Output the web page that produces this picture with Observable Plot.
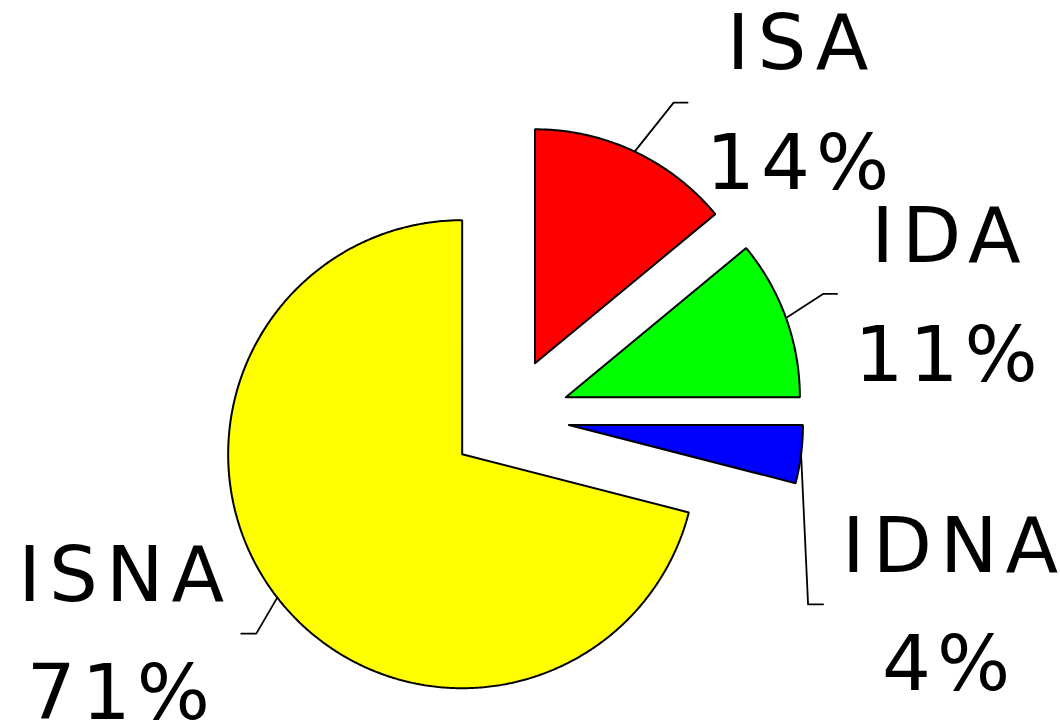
<!DOCTYPE html>
<html><head><meta charset="utf-8">
<script src="https://cdn.jsdelivr.net/npm/d3@7"></script>
<script src="https://cdn.jsdelivr.net/npm/@observablehq/plot@0.6"></script>
<style>
html,body{margin:0;padding:0;background:#fff;}
#chart svg{display:block;}
</style>
</head><body><div id="chart"></div>
<script>
// ---- data ----
const names = ["ISA", "IDA", "IDNA", "ISNA"];
const values = [14, 11, 4, 71];
const percentLabels = ["14%", "11%", "4%", "71%"];
const colors = ["#FF0000", "#00FF00", "#0000FF", "#FFFF00"];

// ---- layout (pixels) ----
const W = 1060, H = 725, CX = 509, CY = 417, R = 234, EXPLODE = 0.256;
const NAME_LS = 8, PCT_LS = 6;
// offsets (px) relative to the mid-arc point of each exploded slice
const leaderElbow = [[39, -49], [37, -24], [7, 150], [-21, 36]];
const leaderEnd   = [[53, -49], [51, -24], [22, 150], [-36, 36]];
const nameOffset  = [[163, -83], [160, -56], [149, 118], [-156, 3]];
const pctOffset   = [[163, 37], [160, 63], [145, 236], [-159, 121]];

const arcs = d3.pie().sort(null).value(d => d)(values);
const slices = [], leaders = [], nameLabels = [], pctLabels = [];
const px = (p, o) => ({x: p.x + o[0] / R, y: p.y - o[1] / R});

arcs.forEach((a, i) => {
  const name = names[i];
  const mid = (a.startAngle + a.endAngle) / 2;
  const ox = EXPLODE * Math.sin(mid), oy = EXPLODE * Math.cos(mid);
  slices.push({name, x: ox, y: oy});
  const n = Math.max(2, Math.ceil((a.endAngle - a.startAngle) / (Math.PI / 360)));
  for (let k = 0; k <= n; k++) {
    const t = a.startAngle + (a.endAngle - a.startAngle) * k / n;
    slices.push({name, x: ox + Math.sin(t), y: oy + Math.cos(t)});
  }
  slices.push({name, x: ox, y: oy});
  const A = {x: ox + Math.sin(mid), y: oy + Math.cos(mid)};
  const E = px(A, leaderElbow[i]), F = px(A, leaderEnd[i]);
  leaders.push({name, ...A}, {name, ...E}, {name, ...F});
  nameLabels.push({text: name, ...px(A, nameOffset[i])});
  pctLabels.push({text: percentLabels[i], ...px(A, pctOffset[i])});
});

const chart = Plot.plot({
  width: W, height: H, margin: 0,
  style: {background: "#fff"},
  x: {domain: [-CX / R, (W - CX) / R], axis: null},
  y: {domain: [-(H - CY) / R, CY / R], axis: null},
  color: {domain: names, range: colors},
  marks: [
    Plot.line(slices, {x: "x", y: "y", z: "name", fill: "name", stroke: "black", strokeWidth: 2, curve: "linear", strokeLinejoin: "miter"}),
    Plot.line(leaders, {x: "x", y: "y", z: "name", stroke: "black", strokeWidth: 1.8, curve: "linear"}),
    Plot.text(nameLabels, {x: "x", y: "y", text: "text", fontSize: 77, fontFamily: "DejaVu Sans", fill: "black", textAnchor: "middle", lineAnchor: "bottom", dx: NAME_LS / 2}),
    Plot.text(pctLabels, {x: "x", y: "y", text: "text", fontSize: 77, fontFamily: "DejaVu Sans", fill: "black", textAnchor: "middle", lineAnchor: "bottom", dx: PCT_LS / 2})
  ]
});
const nameSet = new Set(names);
d3.select(chart).selectAll("text").each(function () {
  const t = this.textContent;
  this.setAttribute("letter-spacing", nameSet.has(t) ? NAME_LS : PCT_LS);
});
document.getElementById("chart").appendChild(chart);
</script>
</body></html>
